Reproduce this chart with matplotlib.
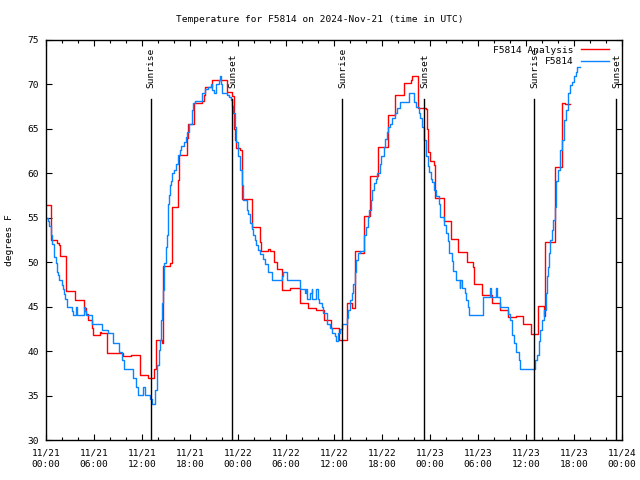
import matplotlib
matplotlib.use("Agg")
import matplotlib.pyplot as plt
import matplotlib.transforms as mtransforms
import numpy as np

# ---- data (hours since 2024-11-21 00:00 UTC) ----
analysis_hours = [0.08, 0.67, 1.33, 1.6, 1.75, 2.54, 3.67, 4.7, 4.95, 5.3, 5.7, 5.9, 6.7, 6.9,
                  7.67, 9.67, 10.67, 11.75, 12.75, 13.55, 13.7, 13.8, 14.5, 14.6, 15.5, 15.8,
                  16.5, 16.65, 17.6, 17.75, 18.5, 19.5, 19.7, 19.9, 20.7, 22.6, 23.2, 23.5,
                  23.65, 23.8, 24.2, 24.5, 25.7, 26.7, 26.9, 27.7, 28.0, 28.5, 28.9, 29.5,
                  30.5, 31.7, 32.7, 33.75, 34.7, 35.6, 36.6, 37.6, 38.3, 38.6, 39.3, 39.7,
                  40.5, 41.5, 42.7, 43.6, 44.7, 45.6, 45.75, 46.5, 47.5, 47.6, 47.7, 48.0,
                  48.5, 48.6, 49.7, 50.6, 51.5, 52.6, 53.4, 53.5, 54.5, 55.7, 56.7, 57.7,
                  58.7, 59.6, 60.6, 61.5, 62.3, 62.4, 63.6, 64.5, 64.9, 65.2, 65.5]
analysis_temps = [56.4, 52.5, 52.2, 51.9, 50.7, 46.8, 45.75, 44.8, 44.2, 43.5, 42.6, 41.8, 42.2, 42.0,
                  39.75, 39.45, 39.6, 37.3, 36.95, 38.0, 40.05, 41.25, 40.95, 49.6, 49.9, 56.25,
                  59.2, 62.1, 64.0, 65.5, 67.95, 68.1, 68.8, 69.7, 70.5, 69.1, 68.7, 65.0,
                  63.75, 62.9, 62.6, 57.1, 54.0, 52.3, 51.25, 51.5, 51.3, 50.0, 49.2, 46.9,
                  47.1, 45.4, 44.9, 44.6, 43.5, 42.6, 41.3, 45.4, 44.8, 51.3, 51.0, 55.25,
                  59.7, 63.0, 66.6, 68.8, 70.2, 70.5, 71.0, 67.4, 67.2, 65.0, 62.4, 61.4,
                  60.9, 57.2, 54.6, 52.6, 51.1, 50.0, 49.5, 47.55, 46.3, 45.4, 44.6, 43.8,
                  43.9, 43.1, 41.9, 45.1, 43.9, 52.25, 60.75, 67.9, 67.75, 67.8, 67.8]

obs_hours = [0.08, 0.25, 0.4, 0.6, 0.8, 0.95, 1.0, 1.25, 1.35, 1.45, 1.6, 2.0, 2.15, 2.3, 2.4,
             2.65, 3.25, 3.35, 3.7, 3.85, 4.7, 4.8, 4.9, 5.05, 5.8, 7.0, 7.8, 8.4, 9.15, 9.45,
             9.8, 10.9, 11.2, 11.55, 12.15, 12.4, 13.0, 13.2, 13.6, 13.83, 13.9, 14.1, 14.3,
             14.4, 14.5, 14.67, 14.8, 14.95, 15.08, 15.25, 15.4, 15.5, 15.67, 15.8, 16.0,
             16.2, 16.5, 16.75, 16.9, 17.2, 17.45, 17.67, 17.9, 18.2, 18.3, 18.4, 18.6,
             19.55, 19.9, 20.3, 20.6, 20.8, 21.0, 21.2, 21.67, 21.75, 21.9, 22.04, 22.6,
             22.9, 23.1, 23.3, 23.4, 23.6, 23.8, 24.05, 24.25, 24.45, 24.67, 25.1, 25.3,
             25.5, 25.7, 25.9, 26.1, 26.3, 26.5, 26.75, 27.1, 27.4, 27.8, 28.3, 29.45,
             29.6, 30.1, 31.75, 32.4, 32.5, 32.6, 32.67, 33.0, 33.2, 33.3, 33.75, 33.95,
             34.1, 34.45, 34.67, 35.1, 35.5, 35.7, 36.1, 36.3, 36.5, 36.8, 37.05, 37.6,
             37.8, 38.0, 38.2, 38.4, 38.6, 38.8, 39.0, 39.25, 39.7, 39.8, 39.96, 40.2,
             40.4, 40.6, 40.8, 41.0, 41.2, 41.4, 41.7, 41.9, 42.2, 42.4, 42.6, 42.8, 43.0,
             43.3, 43.6, 43.9, 44.2, 45.4, 46.0, 46.3, 46.6, 46.8, 47.0, 47.25, 47.5, 47.7,
             47.9, 48.1, 48.3, 48.5, 48.7, 49.1, 49.3, 49.75, 49.96, 50.2, 50.4, 50.7,
             50.9, 51.2, 51.7, 51.8, 51.95, 52.2, 52.4, 52.5, 52.8, 52.9, 54.6, 55.45,
             55.6, 56.3, 56.4, 56.7, 57.8, 58.0, 58.2, 58.3, 58.5, 58.8, 59.1, 59.3, 61.1,
             61.4, 61.6, 61.8, 62.0, 62.25, 62.5, 62.6, 62.75, 62.9, 63.05, 63.25, 63.4,
             63.6, 63.7, 63.8, 64.0, 64.2, 64.3, 64.5, 64.7, 64.8, 65.0, 65.2, 65.3, 65.5,
             65.75, 65.96, 66.2, 66.4, 66.7]
obs_temps = [55.0, 54.6, 54.1, 53.1, 52.05, 51.6, 50.55, 49.9, 48.9, 48.6, 48.0, 47.4, 46.95, 46.4, 45.9,
             45.0, 44.55, 44.1, 45.0, 44.1, 44.55, 45.0, 44.55, 44.1, 43.05, 42.4, 42.0, 40.95, 39.95, 39.0,
             37.95, 36.95, 36.0, 35.05, 36.0, 35.05, 34.6, 34.05, 35.6, 36.6, 38.4, 40.1, 41.3,
             43.5, 45.4, 46.9, 49.9, 51.75, 53.1, 56.6, 57.6, 58.7, 59.1, 60.0, 60.4,
             61.05, 62.05, 62.6, 63.1, 63.5, 64.05, 64.7, 65.6, 66.2, 67.1, 67.9, 68.1,
             69.0, 69.45, 69.7, 70.05, 69.4, 69.0, 70.05, 70.5, 71.0, 70.05, 69.0, 68.8,
             68.6, 68.2, 67.6, 66.75, 65.25, 63.55, 61.9, 60.4, 58.7, 57.0, 55.9, 55.4,
             54.4, 53.7, 53.1, 52.5, 51.9, 51.4, 50.9, 50.4, 49.8, 48.9, 48.0, 48.4,
             48.9, 48.0, 46.95, 46.5, 46.95, 46.5, 45.9, 46.5, 46.95, 45.9, 46.95, 45.9,
             45.4, 45.0, 44.25, 43.1, 42.6, 42.05, 41.7, 41.1, 42.0, 42.5, 43.05, 43.7,
             44.6, 45.75, 46.5, 47.6, 48.9, 50.25, 51.0, 51.3, 52.5, 53.1, 54.0, 55.1,
             55.9, 57.0, 58.1, 58.95, 59.4, 60.0, 61.1, 62.0, 63.0, 63.9, 64.7, 65.25, 65.6,
             66.2, 66.75, 67.4, 68.05, 69.0, 68.05, 67.5, 66.75, 66.2, 65.25, 63.75, 61.9, 60.8,
             60.2, 59.4, 59.0, 58.1, 57.4, 56.6, 55.1, 54.2, 53.3, 52.35, 51.0, 50.1,
             49.05, 48.0, 47.1, 48.0, 47.1, 47.1, 46.5, 45.75, 45.0, 44.05, 46.05, 47.1,
             46.05, 47.1, 46.05, 45.0, 44.2, 43.5, 42.6, 41.8, 40.9, 39.95, 39.0, 37.95, 39.0,
             39.6, 41.1, 42.4, 43.5, 44.6, 46.5, 48.4, 49.5, 51.0, 52.5, 53.6, 54.75,
             56.25, 57.75, 59.1, 60.4, 61.5, 62.6, 63.75, 64.9, 66.0, 67.1, 67.9, 69.0, 69.9,
             70.25, 70.9, 71.4, 72.0, 72.0]

sun_hours = [13.17, 23.3, 37.05, 47.3, 61.05, 71.3]
sun_labels = ["Sunrise", "Sunset", "Sunrise", "Sunset", "Sunrise", "Sunset"]

xtick_hours = [0, 6, 12, 18, 24, 30, 36, 42, 48, 54, 60, 66, 72]
xtick_labels = ["11/21\n00:00", "11/21\n06:00", "11/21\n12:00", "11/21\n18:00",
                "11/22\n00:00", "11/22\n06:00", "11/22\n12:00", "11/22\n18:00",
                "11/23\n00:00", "11/23\n06:00", "11/23\n12:00", "11/23\n18:00",
                "11/24\n00:00"]
ytick_values = [30, 35, 40, 45, 50, 55, 60, 65, 70, 75]

title = "Temperature for F5814 on 2024-Nov-21 (time in UTC)"
series_names = ["F5814 Analysis", "F5814"]

# ---- plot ----
plt.rcParams['font.family'] = ['DejaVu Sans Mono', 'DejaVu Sans']
FS = 6.8
fig = plt.figure(figsize=(6.4, 4.8), dpi=100)
ax = fig.add_axes([46/640, 40/480, 576/640, 400/480])

ax.plot(analysis_hours, analysis_temps, drawstyle='steps-post', color='#ff0000', lw=1.0,
        label=series_names[0])
ax.plot(obs_hours, obs_temps, drawstyle='steps-post', color='#0a84ff', lw=1.0,
        label=series_names[1])

trans = mtransforms.blended_transform_factory(ax.transData, ax.transAxes)
for h, lab in zip(sun_hours, sun_labels):
    ax.plot([h, h], [0, 0.8525], transform=trans, color='black', lw=1.0)
    ax.text(h, 0.88, lab, transform=trans, rotation=90, ha='center', va='bottom',
            fontsize=FS)

ax.set_xlim(0, 72)
ax.set_ylim(30, 75)
ax.set_xticks(xtick_hours)
ax.set_xticklabels(xtick_labels, fontsize=FS, linespacing=1.45)
ax.set_xticks(np.arange(0, 73, 2), minor=True)
ax.set_yticks(ytick_values)
ax.set_yticklabels([str(v) for v in ytick_values], fontsize=FS)
ax.tick_params(which='both', direction='in', top=True, right=True, width=0.8)
ax.tick_params(which='major', length=4)
ax.tick_params(which='minor', length=2.2)
ax.tick_params(axis='x', pad=6)
ax.tick_params(axis='y', pad=5)
for s in ax.spines.values():
    s.set_linewidth(1.0)

fig.text(320/640, 1 - 20/480, title, ha='center', va='center', fontsize=FS)
fig.text(10/640, 0.5, "degrees F", rotation=90, ha='center', va='center', fontsize=FS)

leg = ax.legend(loc='upper right', bbox_to_anchor=(0.988, 1.0), frameon=False, fontsize=FS,
                markerfirst=False, handlelength=3.0, handletextpad=0.8, labelspacing=0.25,
                borderaxespad=0.2)
for t in leg.get_texts():
    t.set_ha('right')

fig.savefig("out.png", dpi=100)
